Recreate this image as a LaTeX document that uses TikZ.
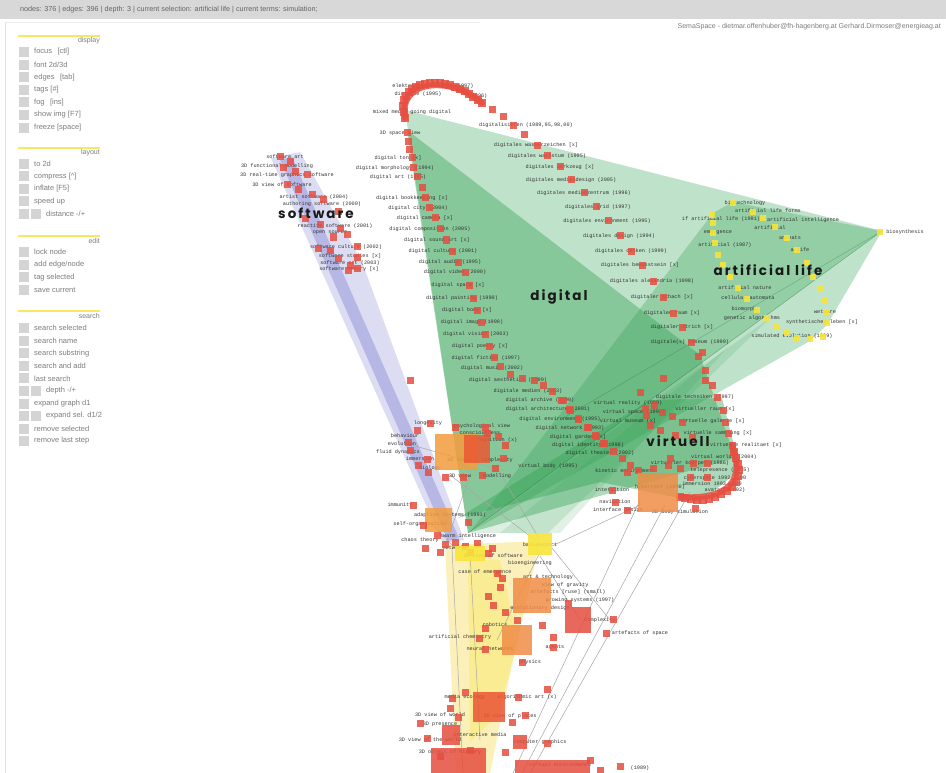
\documentclass[tikz,border=0pt]{standalone}
\usepackage{fontspec}
\setmainfont{Liberation Sans}
\setmonofont{Liberation Mono}
\newfontfamily\tagfont[LetterSpace=15]{Poppins}

\definecolor{nodered}{RGB}{230,78,64}
\definecolor{nodeorange}{RGB}{240,140,70}
\definecolor{nodeyellow}{RGB}{248,228,60}
\definecolor{hullgreen}{RGB}{46,160,80}
\definecolor{bandpurple}{RGB}{140,140,215}
\definecolor{hullyellow}{RGB}{252,238,175}
\definecolor{uigray}{RGB}{125,125,125}
\definecolor{barbg}{RGB}{216,216,216}
\definecolor{menuline}{RGB}{248,232,95}

\tikzset{
  rsq/.style={fill=nodered, fill opacity=.85, draw=none, inner sep=0, minimum size=7pt},
  osq/.style={fill=nodeorange, fill opacity=.85, draw=none, inner sep=0},
  ysq/.style={fill=nodeyellow, fill opacity=.9, draw=none, inner sep=0, minimum size=6pt},
  lbl/.style={font=\ttfamily\fontsize{5.2}{6}\selectfont, text=black!80, inner sep=0},
  menuitem/.style={font=\fontsize{7.5}{8}\selectfont, text=uigray, anchor=west, inner sep=0},
  menutitle/.style={font=\fontsize{7}{8}\selectfont, text=uigray, anchor=east, inner sep=0},
  menubox/.style={fill=black!17, draw=none, minimum width=10pt, minimum height=10pt, inner sep=0, anchor=west},
  bigtag/.style={font=\tagfont\bfseries\fontsize{13.5}{14}\selectfont, text=black!90, inner sep=0},
  edge/.style={draw=black!35, line width=.5pt},
}

\begin{document}
\begin{tikzpicture}[x=1pt,y=-1pt]
\useasboundingbox (0,0) rectangle (946,773);
\fill[white] (0,0) rectangle (946,773);

% ---------- status bar and frame ----------
\fill[barbg] (0,0) rectangle (946,19);
\node[font=\fontsize{7.2}{8}\selectfont, text=uigray!80!black, anchor=west, inner sep=0] (status) at (20,10)
  {nodes: 376 | edges: 396 | depth: 3 | current selection: artificial life | current terms: simulation;};
\draw[black!12] (5,22) -- (5,773);
\draw[black!8] (5,22) -- (480,22);
\node[font=\fontsize{7}{8}\selectfont, text=uigray, anchor=east, inner sep=0] (credit) at (941,27)
  {SemaSpace - dietmar.offenhuber@fh-hagenberg.at Gerhard.Dirmoser@energieag.at};

% ---------- menu ----------
\draw[menuline, line width=2.5pt] (18,36) -- (100,36);
\node[menutitle] (tdisplay) at (100,41) {display};
\foreach \t [count=\i] in {focus \ \,[ctl], font 2d/3d, edges \ \,[tab], tags [\#], fog \ \,[ins], show img [F7], freeze [space]}{
  \node[menubox] (bd\i) at (19,{52+(\i-1)*12.6}) {};
  \node[menuitem] (md\i) at (34,{52+(\i-1)*12.6}) {\t};
}
\draw[menuline, line width=2.5pt] (18,148) -- (100,148);
\node[menutitle] (tlayout) at (100,153) {layout};
\foreach \t [count=\i] in {to 2d, compress [\^{}], inflate [F5], speed up}{
  \node[menubox] (bl\i) at (19,{164+(\i-1)*12.5}) {};
  \node[menuitem] (ml\i) at (34,{164+(\i-1)*12.5}) {\t};
}
\node[menubox] (bl5) at (19,214) {};
\node[menubox] (bl6) at (31,214) {};
\node[menuitem] (ml5) at (46,214) {distance -/+};
\draw[menuline, line width=2.5pt] (18,236) -- (100,236);
\node[menutitle] (tedit) at (100,241) {edit};
\foreach \t [count=\i] in {lock node, add edge/node, tag selected, save current}{
  \node[menubox] (be\i) at (19,{252+(\i-1)*12.6}) {};
  \node[menuitem] (me\i) at (34,{252+(\i-1)*12.6}) {\t};
}
\draw[menuline, line width=2.5pt] (18,311) -- (100,311);
\node[menutitle] (tsearch) at (100,316) {search};
\foreach \t [count=\i] in {search selected, search name, search substring, search and add, last search}{
  \node[menubox] (bs\i) at (19,{328+(\i-1)*12.6}) {};
  \node[menuitem] (ms\i) at (34,{328+(\i-1)*12.6}) {\t};
}
\node[menubox] (bs6) at (19,391) {};
\node[menubox] (bs7) at (31,391) {};
\node[menuitem] (ms6) at (46,391) {depth -/+};
\node[menubox] (bs8) at (19,403.5) {};
\node[menuitem] (ms7) at (34,403.5) {expand graph d1};
\node[menubox] (bs9) at (19,416) {};
\node[menubox] (bs10) at (31,416) {};
\node[menuitem] (ms8) at (46,416) {expand sel. d1/2};
\node[menubox] (bs11) at (19,428.5) {};
\node[menuitem] (ms9) at (34,428.5) {remove selected};
\node[menubox] (bs12) at (19,441) {};
\node[menuitem] (ms10) at (34,441) {remove last step};

% ---------- hulls ----------
\fill[hullgreen, fill opacity=.3] (405,110) -- (882,231) -- (468,533) -- cycle;
\fill[hullgreen, fill opacity=.38] (407,130) -- (700,355) -- (735,458) -- (468,533) -- cycle;
\fill[hullgreen, fill opacity=.3] (713,213) -- (733,202) -- (882,231) -- (827,325) -- (810,341) -- (470,532) -- cycle;
\fill[hullgreen, fill opacity=.16] (470,533) -- (548,533) -- (770,318) -- cycle;
\fill[hullgreen, fill opacity=.14] (500,533) -- (560,533) -- (730,345) -- cycle;
\fill[hullgreen, fill opacity=.4] (458,518) -- (650,400) -- (722,398) -- (740,470) -- (700,502) -- (600,482) -- cycle;
\fill[bandpurple, fill opacity=.3] (271,158) -- (300,152) -- (362,262) -- (464,540) -- (443,543) -- cycle;
\fill[bandpurple, fill opacity=.45] (280,160) -- (292,157) -- (459,538) -- (448,541) -- cycle;
\fill[hullyellow, fill opacity=.85] (445,545) -- (540,541) -- (512,665) -- (490,773) -- (456,773) -- cycle;
\fill[nodeyellow, fill opacity=.3] (468,560) -- (500,560) -- (518,640) -- (498,715) -- (470,742) -- cycle;

% ---------- thin edges ----------
\draw[edge] (552,546) -- (640,505);
\draw[edge] (640,500) -- (513,773);
\draw[edge] (690,492) -- (530,773);
\draw[edge] (665,505) -- (522,773);
\draw[edge] (452,548) -- (463,773);
\draw[edge] (470,552) -- (480,740);
\draw[edge] (540,552) -- (497,640);
\draw[edge] (450,475) -- (535,540);
\draw[edge] (472,470) -- (445,546);
\draw[edge] (430,522) -- (455,548);
\draw[edge] (498,470) -- (540,540);
\draw[edge] (540,556) -- (580,620);
\draw[edge] (552,548) -- (610,620);
\draw[edge] (408,444) -- (500,470);
\draw[hullgreen!70!black, line width=.4pt, opacity=.5] (468,533) -- (882,231);
\draw[hullgreen!70!black, line width=.4pt, opacity=.4] (560,420) -- (882,231);

% ---------- labels (drawn under the nodes) ----------
\foreach \x/\y/\t [count=\i] in {
 433/86/{elektronische kunst (1997)}, 418/94/{digitale (1995)}, 478/96/{(1996)}, 412/112/{mixed media going digital},
 526/125/{digitalisieren (1989,95,98,00)}, 536/145/{digitales wasserzeichen [x]}, 547/156/{digitales wachstum (1995)},
 560/167/{digitales werkzeug [x]}, 571/180/{digitales mediendesign (2005)}, 584/193/{digitales medienzentrum (1996)},
 598/207/{digitales grid (1997)}, 607/221/{digitales environment (1995)}, 619/236/{digitales design (1994)},
 631/251/{digitales denken (1999)}, 640/265/{digitales bewusstsein [x]}, 652/281/{digitales alexandria (1998)},
 662/297/{digitaler schach [x]}, 672/313/{digitaler raum [x]}, 682/327/{digitaler strich [x]},
 690/342/{digitale(s) museum (1999)}, 695/397/{digitale techniken (1997)},
 400/133/{3D space view}, 398/158/{digital ton [x]}, 395/168/{digital morphology (1994)},
 398/177/{digital art (1995)}, 412/198/{digital bookkeeping [x]}, 418/208/{digital city (2004)},
 425/218/{digital camera [x]}, 430/229/{digital composition (2005)}, 437/240/{digital sound art [x]},
 443/251/{digital culture (2001)}, 450/262/{digital audio (1995)}, 455/272/{digital video (2000)},
 458/285/{digital space [x]}, 462/298/{digital painting (1990)}, 467/310/{digital body [x]},
 472/322/{digital image (1998)}, 476/334/{digital vision (2003)}, 480/346/{digital poetry [x]},
 486/358/{digital fiction (1997)}, 492/368/{digital music (2002)}, 508/380/{digital aesthetics (1999)},
 528/391/{digitale medien (2003)}, 540/400/{digital archive (2000)}, 548/409/{digital architecture (2001)},
 560/419/{digital environment (1995)}, 570/428/{digital network (1993)}, 578/437/{digital garden [x]},
 588/445/{digital identity (1998)}, 600/453/{digital theater (2002)}
}{\node[lbl] (dl\i) at (\x,\y) {\t};}

\foreach \x/\y/\t [count=\i] in {
 285/157/{software art}, 277/166/{3D functional modelling}, 287/175/{3D real-time graphics software},
 282/185/{3D view of software}, 314/197/{artist software (2004)}, 322/204/{authoring software (2000)},
 335/226/{reactive software (2001)}, 330/233/{open source}, 346/247/{software culture (2002)},
 350/256/{software studies [x]}, 350/263/{software art (2003)}, 349/269/{software theory [x]}
}{\node[lbl] (sl\i) at (\x,\y) {\t};}

\foreach \x/\y/\t [count=\i] in {
 745/203/{biotechnology}, 768/211/{artificial life forms}, 721/219/{if artificial life (1991)},
 803/220/{artificial intelligence}, 770/228/{artificial}, 790/238/{animats}, 800/250/{a-life},
 718/233/{emergence}, 725/245/{artificial (1987)}, 745/288/{artificial nature}, 748/298/{cellular automata},
 744/309/{biomorph}, 752/318/{genetic algorithms}, 825/312/{wetware}, 822/322/{synthetisches leben [x]},
 792/336/{simulated evolution (1989)}, 905/232/{biosynthesis}
}{\node[lbl] (al\i) at (\x,\y) {\t};}

\foreach \x/\y/\t [count=\i] in {
 628/403/{virtual reality (1989)}, 634/412/{virtual space (1993)}, 628/421/{virtual museum [x]},
 548/466/{virtual body (1995)}, 705/409/{virtueller raum [x]},
 712/421/{virtuelle galerie [x]}, 718/433/{virtuelle sammlung [x]}, 746/445/{virtuelle realitaet [x]},
 724/457/{virtual worlds (2004)}, 690/463/{virtueller koerper (1986)}, 720/470/{telepresence (2005)},
 715/478/{cyberspace 1992,2000}, 712/484/{immersion 1993,2000}, 725/490/{avatar (2002)},
 625/471/{kinetic environment}, 612/490/{interaction}, 615/502/{navigation}, 618/510/{interface design},
 660/487/{hypertext (1990)}, 680/512/{3D body simulation}
}{\node[lbl] (vl\i) at (\x,\y) {\t};}

\foreach \x/\y/\t [count=\i] in {
 428/423/{longevity}, 482/426/{psychological view}, 480/433/{consciousness}, 497/440/{cognition (x)},
 405/436/{behaviour}, 402/444/{evolution}, 398/452/{fluid dynamics}, 420/459/{immersion},
 480/460/{3D view of complexity}, 430/468/{biology}, 460/476/{3D view}, 497/476/{modelling},
 400/505/{immunity}, 450/515/{adaptive systems (1993)}, 420/524/{self-organisation}, 468/536/{swarm intelligence},
 420/540/{chaos theory}, 455/548/{networks}, 493/556/{3D view of software}, 540/545/{basisexport},
 530/563/{bioengineering}, 485/572/{case of emergence}, 548/577/{art \& technology}, 565/585/{view of gravity},
 568/592/{artefacts [ruse] (small)}, 580/600/{growing systems (1997)}, 540/608/{evolutionary design},
 600/620/{complexity}, 640/633/{artefacts of space}, 495/625/{robotics}, 460/637/{artificial chemistry},
 490/649/{neural networks}, 555/647/{agents}, 530/662/{physics},
 465/697/{media ecology}, 527/697/{algorithmic art (x)}, 440/715/{3D view of world}, 510/716/{3D view of places},
 440/724/{3D presence}, 430/740/{3D view of the world}, 480/735/{interactive media}, 540/742/{computer graphics},
 450/752/{3D object of history}, 560/765/{virtual environments}, 640/768/{(1989)}
}{\node[lbl] (bl\i) at (\x,\y) {\t};}

% ---------- nodes ----------
% top arc: a dense band of nodes
\draw[nodered, opacity=.85, line width=6pt, line cap=round]
  (405,118) .. controls (398,80) and (450,75) .. (482,103);
\foreach \x/\y [count=\i] in {405/118,404/112,403/106,404/100,406/96,409/92,412/89,416/87,420/85,425/84,430/83,
 435/83,440/83,445/84,450/85,455/87,460/89,465/91,469/94,473/97,478/100,482/103}
 {\node[rsq, minimum size=8.5pt] (ta\i) at (\x,\y) {};}
% "digitales" diagonal
\foreach \x/\y [count=\i] in {492/110,503/117,513/126,524/135,537/146,547/156,560/167,571/180,584/193,596/207,
 608/221,620/236,631/251,642/265,653/281,663/297,673/313,682/327,691/342,698/356,705/370,712/385,717/397,
 723/410,725/422,728/433,732/445}
 {\node[rsq] (dg\i) at (\x,\y) {};}
% virtuell arc
\draw[nodered, opacity=.85, line width=6pt, line cap=round]
  (732,445) .. controls (745,480) and (730,500) .. (680,497);
\foreach \x/\y [count=\i] in {734/452,736/458,738/464,739/470,738/476,736/482,732/487,727/491,721/494,
 715/497,709/499,703/500,697/500,691/499,685/498,680/497}
 {\node[rsq, minimum size=8pt] (va\i) at (\x,\y) {};}
% "digital" column
\foreach \x/\y [count=\i] in {407/133,408/142,409/150,412/158,413/168,417/177,422/188,425/198,429/208,435/218,
 440/229,446/240,452/251,458/262,465/272,469/285,473/298,477/310,481/322,485/334,489/346,494/357,500/366,
 510/374,522/378,534/380,543/385,552/391,561/400,569/409,578/418,587/427,596/436,604/443,613/451,622/458,630/465}
 {\node[rsq] (dc\i) at (\x,\y) {};}
% software cluster
\foreach \x/\y [count=\i] in {280/157,290/162,283/168,295/172,307/175,287/185,298/190,312/195,323/200,338/212,
 305/219,320/225,340/229,333/237,347/235,318/248,330/250,357/246,338/258,357/257,350/265,357/268,348/270}
 {\node[rsq] (sw\i) at (\x,\y) {};}
% artificial life nodes
\foreach \x/\y [count=\i] in {712/215,713/223,713/233,715/243,718/255,723/265,730/277,738/288,747/299,757/310,
 767/318,777/327,787/333,797/338,810/339,823/337,827/323,826/312,825/300,820/288,813/277,807/263,797/250,
 787/238,775/227,763/218,753/212,733/203,880/232}
 {\node[ysq] (al\i) at (\x,\y) {};}
% virtuell cluster
\foreach \x/\y [count=\i] in {563/400,570/410,578/419,588/427,595/435,603/443,627/472,638/470,645/408,646/415,
 654/405,662/412,672/416,682/422,650/425,660/430,675/435,692/437,670/458,668/465,653/468,680/468,693/463,
 707/463,690/477,707/477,612/490,615/502,627/510,695/508,663/378,705/380,640/392,702/352}
 {\node[rsq] (vc\i) at (\x,\y) {};}
% left cluster
\node[osq, fill=nodeorange!85!yellow, minimum width=43pt, minimum height=36pt] (lo1) at (456,452) {};
\node[osq, fill=nodered!80!orange, minimum width=26pt, minimum height=28pt] (lo2) at (477,449) {};
\node[osq, fill=nodeorange!85!yellow, minimum width=27pt, minimum height=24pt] (lo3) at (438,520) {};
\foreach \x/\y [count=\i] in {430/423,417/430,455/427,485/427,487/433,498/436,505/445,503/458,495/468,482/475,
 445/477,428/472,418/465,408/442,410/450,427/459,463/477,413/505,468/522,423/525,437/535,445/544,455/542,
 465/546,477/543,440/552,425/548,470/552,492/548,410/380}
 {\node[rsq] (lc\i) at (\x,\y) {};}
% yellow squares
\node[ysq, minimum width=24pt, minimum height=22pt] (yb1) at (540,544) {};
\node[ysq, minimum width=30pt, minimum height=15pt] (yb2) at (470,553) {};
% orange square near the virtuell arc
\node[osq, minimum width=40pt, minimum height=39pt] (vo1) at (658,492) {};
% lower cluster
\node[osq, minimum width=38pt, minimum height=35pt] (bo1) at (532,595) {};
\node[rsq, minimum width=26pt, minimum height=26pt] (bo2) at (578,620) {};
\node[osq, minimum width=30pt, minimum height=30pt] (bo3) at (517,640) {};
\node[rsq, fill=nodered!85!orange, minimum width=32pt, minimum height=30pt] (bo4) at (489,707) {};
\node[rsq, minimum width=18pt, minimum height=20pt] (bo5) at (451,735) {};
\node[rsq, minimum width=55pt, minimum height=25pt] (bo6) at (458,760) {};
\node[rsq, minimum width=75pt, minimum height=14pt] (bo7) at (552,767) {};
\node[rsq, minimum width=14pt, minimum height=14pt] (bo8) at (520,742) {};
\foreach \x/\y [count=\i] in {488/553,497/573,502/578,500/587,488/596,493/605,505/612,517/620,542/625,553/637,
 553/647,522/662,485/628,479/638,485/649,568/603,613/619,606/633,547/689,518/697,465/692,452/698,450/708,
 458/717,420/723,427/738,512/722,525/715,547/743,600/770,440/756,470/750,505/752,590/760,620/766}
 {\node[rsq] (lw\i) at (\x,\y) {};}

% ---------- hull titles ----------
\node[bigtag] (tsoftware) at (316,213) {software};
\node[bigtag] (tdigital) at (559,297) {digital};
\node[bigtag] (tlife) at (768,270) {artificial life};
\node[bigtag] (tvirtuell) at (678,441) {virtuell};
\end{tikzpicture}
\end{document}
